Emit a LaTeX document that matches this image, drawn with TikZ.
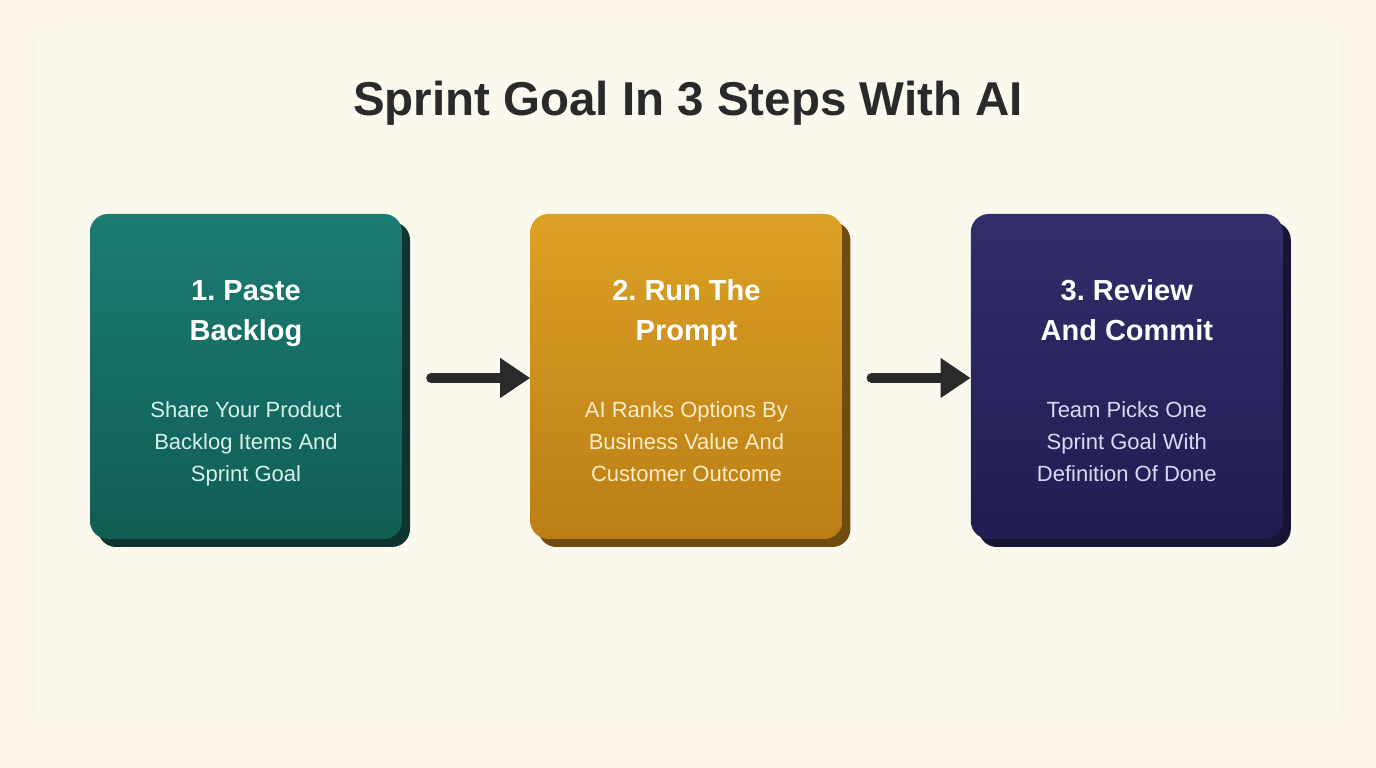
\documentclass[tikz,border=0pt]{standalone}
\usepackage{fontspec}
\setmainfont{Liberation Sans}
\frenchspacing
\usepackage{tikz}
\usetikzlibrary{arrows.meta, positioning, shadows}
\usepackage{xcolor}
\definecolor{cPage}{RGB}{252,245,234}
\definecolor{cPanel}{RGB}{251,248,238}
\definecolor{cInk}{RGB}{42,42,42}
\definecolor{cTealTop}{RGB}{27,124,114}
\definecolor{cTealBot}{RGB}{17,93,84}
\definecolor{cTealShd}{RGB}{14,52,47}
\definecolor{cTealTxt}{RGB}{214,241,234}
\definecolor{cGoldTop}{RGB}{220,161,36}
\definecolor{cGoldBot}{RGB}{186,126,22}
\definecolor{cGoldShd}{RGB}{110,75,15}
\definecolor{cGoldTxt}{RGB}{252,236,200}
\definecolor{cNavyTop}{RGB}{50,46,106}
\definecolor{cNavyBot}{RGB}{33,28,82}
\definecolor{cNavyShd}{RGB}{24,20,52}
\definecolor{cNavyTxt}{RGB}{218,216,242}
\tikzset{
  stepbox/.style={rectangle, rounded corners=18pt, minimum width=312pt,
                  minimum height=325pt, inner sep=0pt},
  tealbox/.style={stepbox, top color=cTealTop, bottom color=cTealBot,
                  drop shadow={shadow xshift=8pt, shadow yshift=-8pt,
                               fill=cTealShd, opacity=1}},
  goldbox/.style={stepbox, top color=cGoldTop, bottom color=cGoldBot,
                  drop shadow={shadow xshift=8pt, shadow yshift=-8pt,
                               fill=cGoldShd, opacity=1}},
  navybox/.style={stepbox, top color=cNavyTop, bottom color=cNavyBot,
                  drop shadow={shadow xshift=8pt, shadow yshift=-8pt,
                               fill=cNavyShd, opacity=1}},
  maintitle/.style={anchor=base, text=cInk,
                    font={\fontsize{47.5}{56}\selectfont\bfseries}},
  steptitle/.style={anchor=base, align=center, text=white,
                    font={\fontsize{29}{40}\selectfont\bfseries}},
  stepdesc/.style={anchor=base, align=center,
                   font={\fontsize{22}{32}\selectfont}},
  flowarrow/.style={-{Triangle[length=30pt, width=38pt]}, line width=10pt,
                    line cap=round, color=cInk}
}
\begin{document}
\begin{tikzpicture}[x=1pt, y=1pt]
  % page and panel
  \fill[cPage] (0,0) rectangle (1376,768);
  \fill[cPanel, rounded corners=20pt] (35,48) rectangle (1341,738);
  \useasboundingbox (0,0) rectangle (1376,768);

  \node[maintitle] (title) at (688,652) {Sprint Goal In 3 Steps With AI};

  \node[tealbox] (b1) at (246,391.5) {};
  \node[goldbox, right=128pt of b1] (b2) {};
  \node[navybox, right=128pt of b2] (b3) {};

  \node[steptitle] (t1) at ([yshift=-127pt]b1.north) {1. Paste\\Backlog};
  \node[stepdesc, text=cTealTxt] (d1) at ([yshift=-268pt]b1.north)
      {Share Your Product\\Backlog Items And\\Sprint Goal};
  \node[steptitle] (t2) at ([yshift=-127pt]b2.north) {2. Run The\\Prompt};
  \node[stepdesc, text=cGoldTxt] (d2) at ([yshift=-268pt]b2.north)
      {AI Ranks Options By\\Business Value And\\Customer Outcome};
  \node[steptitle] (t3) at ([yshift=-127pt]b3.north) {3. Review\\And Commit};
  \node[stepdesc, text=cNavyTxt] (d3) at ([yshift=-268pt]b3.north)
      {Team Picks One\\Sprint Goal With\\Definition Of Done};

  \foreach \from/\to in {b1/b2, b2/b3}
    \draw[flowarrow] ([xshift=29pt, yshift=-1.5pt]\from.east)
      -- ([yshift=-1.5pt]\to.west);
\end{tikzpicture}
\end{document}
